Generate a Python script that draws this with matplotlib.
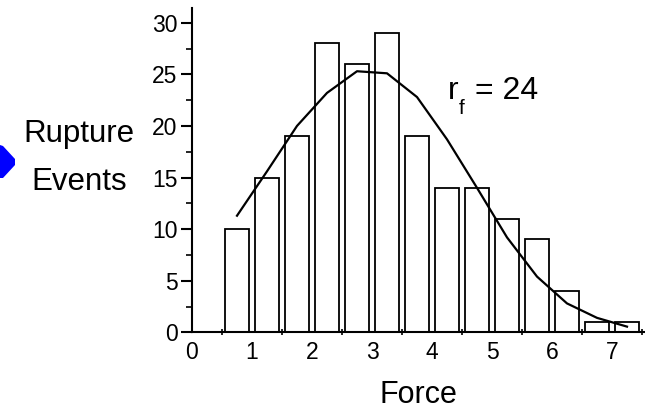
import matplotlib
matplotlib.use("Agg")
import matplotlib.pyplot as plt
import numpy as np
from matplotlib.patches import Polygon

plt.rcParams["font.family"] = ["Liberation Sans", "DejaVu Sans"]

# histogram of rupture forces (bin centres, counts) and the fitted curve
force = [0.75, 1.25, 1.75, 2.25, 2.75, 3.25, 3.75, 4.25, 4.75, 5.25, 5.75, 6.25, 6.75, 7.25]
events = [10, 15, 19, 28, 26, 29, 19, 14, 14, 11, 9, 4, 1, 1]
fit = [11.3, 15.6, 20.0, 23.2, 25.3, 25.1, 22.8, 18.7, 14.0, 9.2, 5.4, 2.8, 1.4, 0.55]

W, H = 645, 409
fig = plt.figure(figsize=(W / 100, H / 100), dpi=100)
ax = fig.add_axes([192 / W, (H - 332.3) / H, 453 / W, 324 / H])

ax.bar(force, events, width=0.41, color="white", edgecolor="black", linewidth=1.3)
ax.plot(force, fit, color="black", linewidth=1.6)

ax.set_xlim(0, 7.55)
ax.set_ylim(0, 31.4)

for s in ["top", "right"]:
    ax.spines[s].set_visible(False)
for s in ["left", "bottom"]:
    ax.spines[s].set_linewidth(1.5)

ax.set_yticks(np.arange(0, 31, 5))
ax.set_yticks(np.arange(2.5, 30, 5), minor=True)
ax.tick_params(axis="y", which="major", direction="out", length=8, width=1.5,
               labelsize=16.5, pad=2.5)
ax.tick_params(axis="y", which="minor", direction="out", length=4, width=1.2)

ax.set_xticks(np.arange(0, 8, 1))
ax.set_xticks(np.arange(0.5, 7.6, 1), minor=True)
ax.tick_params(axis="x", which="major", length=0, labelsize=16.5, pad=6.5)
ax.tick_params(axis="x", which="minor", direction="inout", length=5, width=1.2)

fig.text(79 / W, 1 - 142 / H, "Rupture", fontsize=22.5, ha="center", va="baseline")
fig.text(79 / W, 1 - 190 / H, "Events", fontsize=22.5, ha="center", va="baseline")
fig.text(418 / W, 1 - 403 / H, "Force", fontsize=22, ha="center", va="baseline")

fig.text(448 / W, 1 - 99 / H, "r", fontsize=23, va="baseline")
fig.text(459 / W, 1 - 114 / H, "f", fontsize=15, va="baseline")
fig.text(475 / W, 1 - 99 / H, "= 24", fontsize=23, va="baseline")

# blue arrow tip at the left edge
tip = np.array([(0, 145), (3, 146), (15, 159), (15, 165), (3, 178), (0, 178)], dtype=float)
tip[:, 0] /= W
tip[:, 1] = 1 - tip[:, 1] / H
fig.patches.append(Polygon(tip, closed=True, transform=fig.transFigure,
                           facecolor="#0000ff", edgecolor="none"))

fig.savefig("out.png", dpi=100)
